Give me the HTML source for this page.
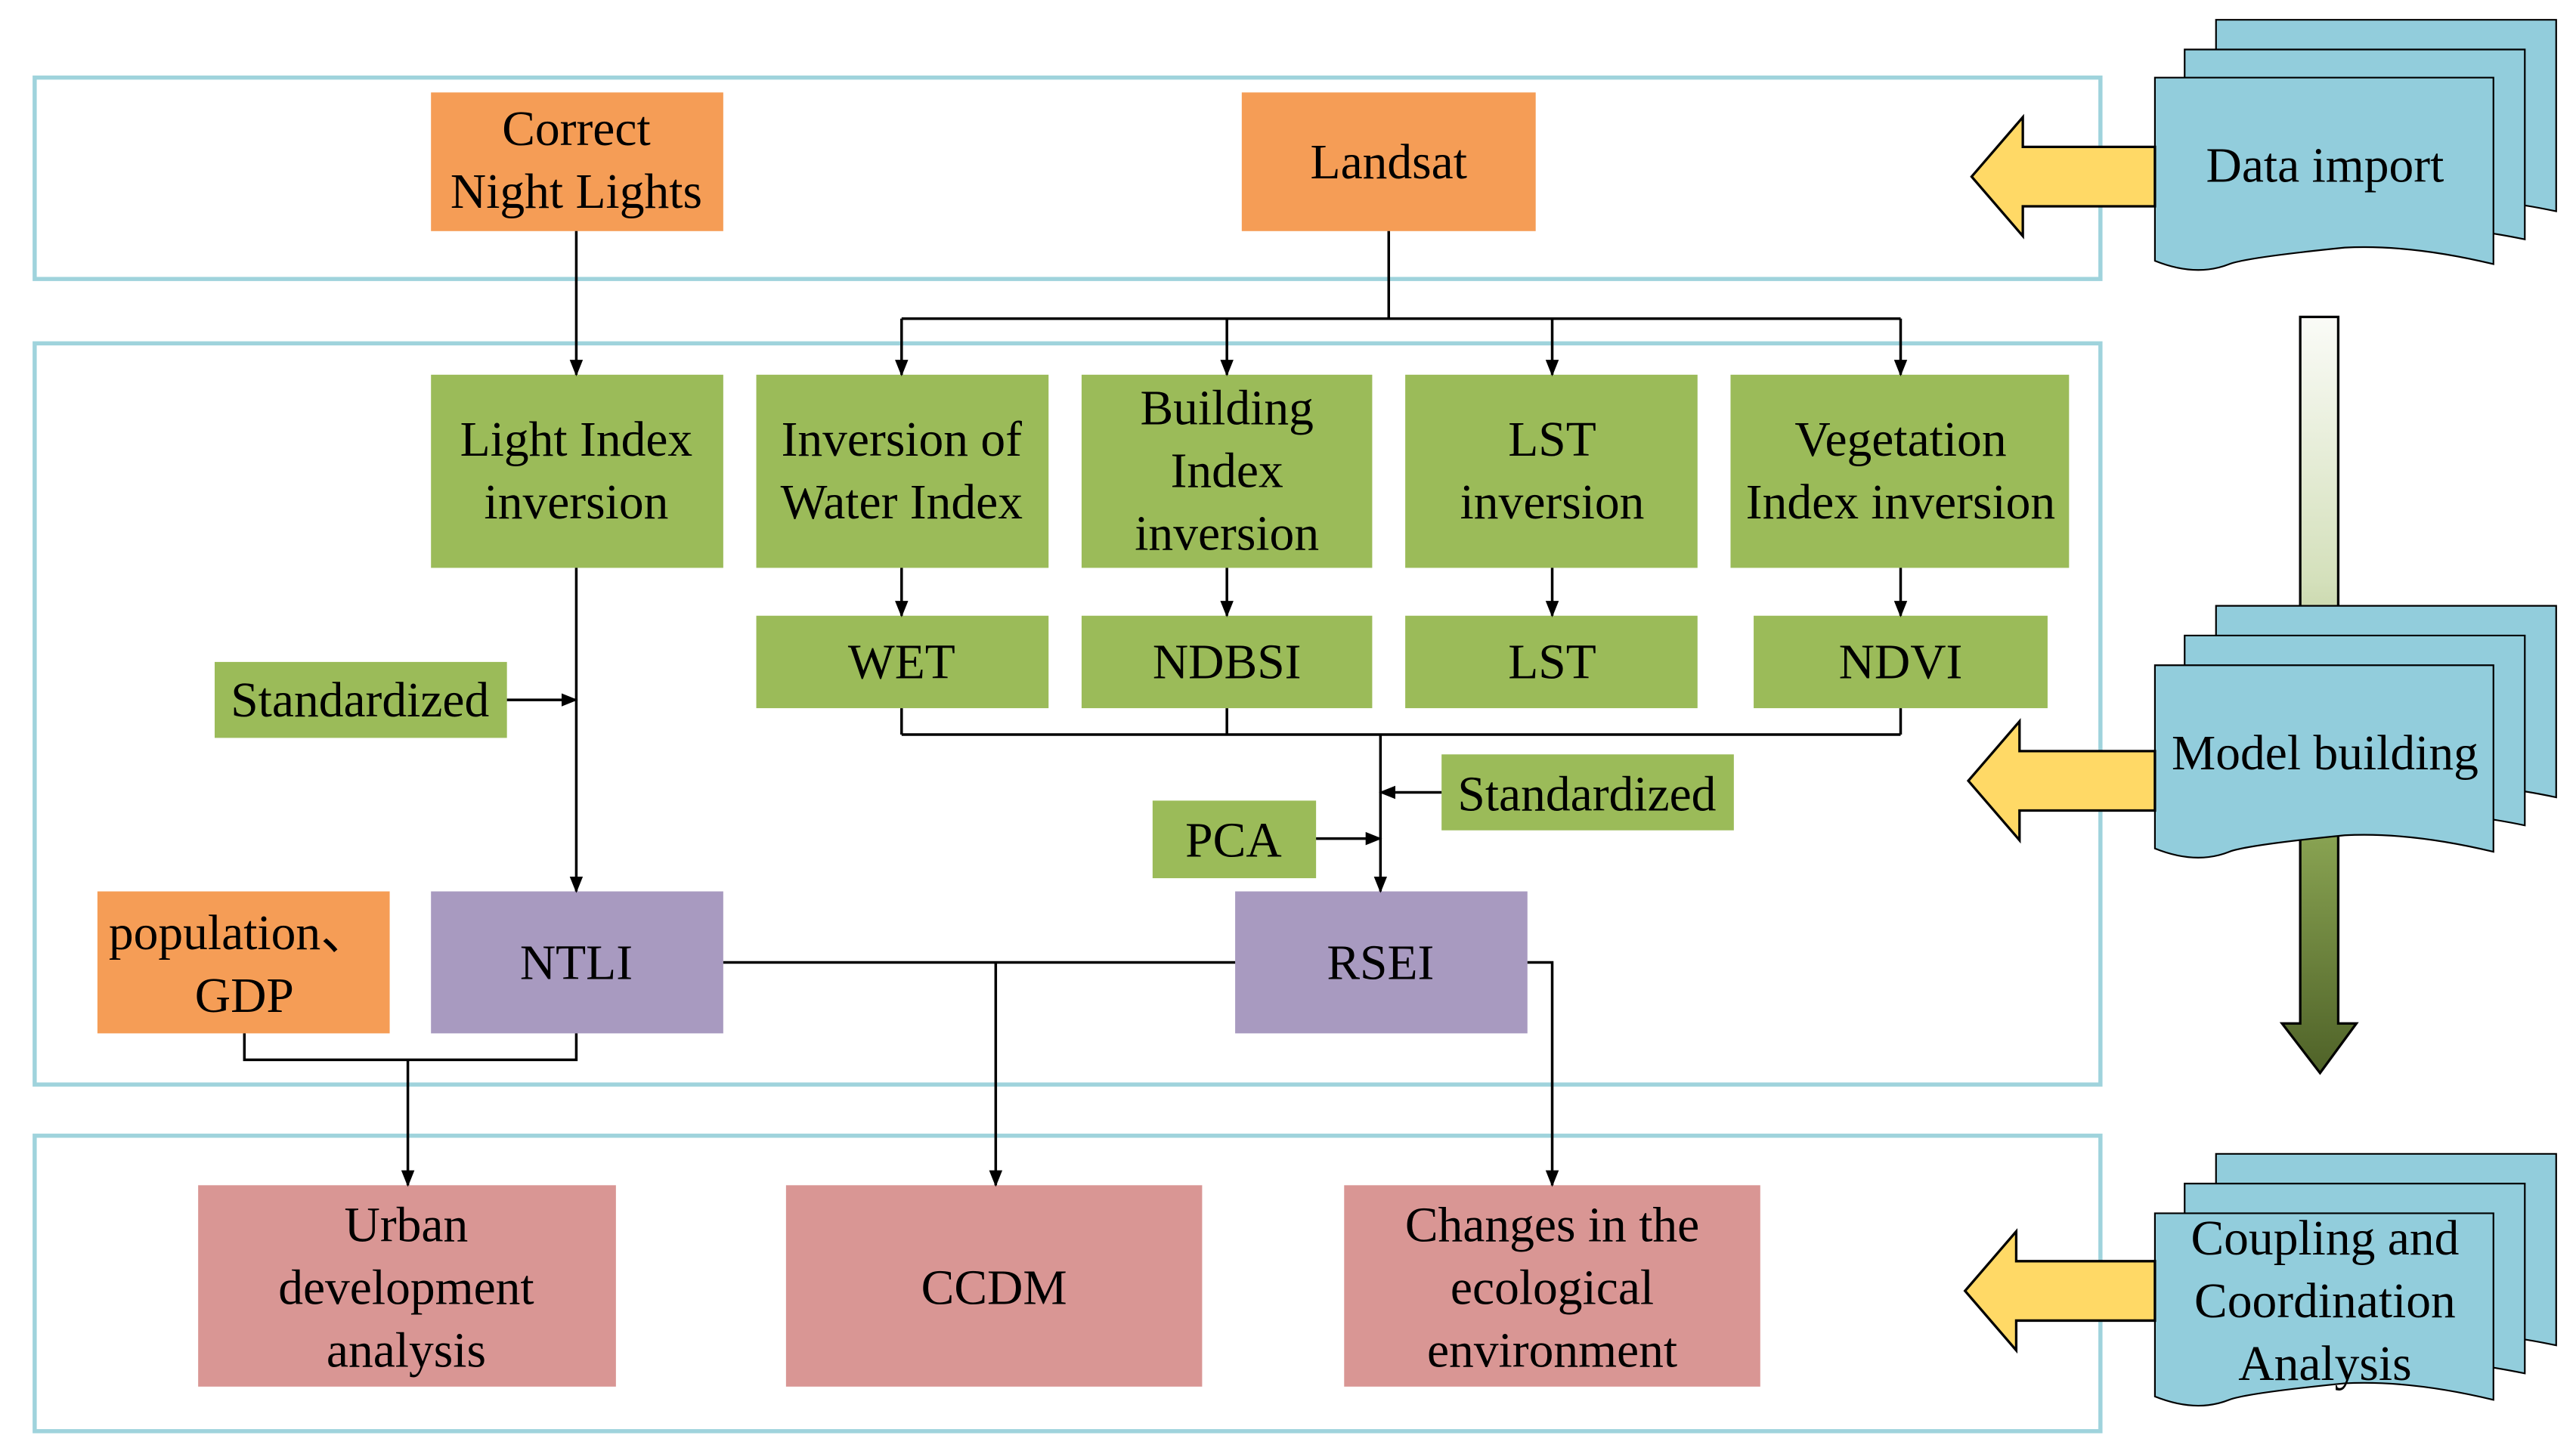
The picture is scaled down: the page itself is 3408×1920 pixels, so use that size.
<!DOCTYPE html>
<html><head><meta charset="utf-8"><style>html,body{margin:0;padding:0;background:#fff}svg{display:block}</style></head>
<body>
<svg width="3408" height="1920" viewBox="0 0 1560 879" preserveAspectRatio="none" xmlns="http://www.w3.org/2000/svg">
<defs>
<marker id="a" markerWidth="10" markerHeight="10" refX="9" refY="5" orient="auto" markerUnits="userSpaceOnUse"><path d="M0,1 L10,5 L0,9 z" fill="#000"/></marker>
<linearGradient id="g" x1="0" y1="0" x2="0" y2="1"><stop offset="0" stop-color="#fafbf7"/><stop offset="0.35" stop-color="#d4e0bb"/><stop offset="0.7" stop-color="#86a050"/><stop offset="1" stop-color="#4f6228"/></linearGradient>
</defs>
<style>text{font-family:"Liberation Serif",serif;font-size:30px;text-anchor:middle;fill:#000}</style>
<g fill="none" stroke="#9fd3dc" stroke-width="2.5">
<rect x="21" y="47" width="1251" height="122"/>
<rect x="21" y="208" width="1251" height="449"/>
<rect x="21" y="688" width="1251" height="179"/>
</g>
<g fill="#F59D56">
<rect x="261" y="56" width="177" height="84"/><rect x="752" y="56" width="178" height="84"/><rect x="59" y="540" width="177" height="86"/>
</g>
<g fill="#9BBB59">
<rect x="261" y="227" width="177" height="117"/><rect x="458" y="227" width="177" height="117"/><rect x="655" y="227" width="176" height="117"/><rect x="851" y="227" width="177" height="117"/><rect x="1048" y="227" width="205" height="117"/>
<rect x="458" y="373" width="177" height="56"/><rect x="655" y="373" width="176" height="56"/><rect x="851" y="373" width="177" height="56"/><rect x="1062" y="373" width="178" height="56"/>
<rect x="130" y="401" width="177" height="46"/><rect x="873" y="457" width="177" height="46"/><rect x="698" y="485" width="99" height="47"/>
</g>
<g fill="#A89AC0"><rect x="261" y="540" width="177" height="86"/><rect x="748" y="540" width="177" height="86"/></g>
<g fill="#D99694"><rect x="120" y="718" width="253" height="122"/><rect x="476" y="718" width="252" height="122"/><rect x="814" y="718" width="252" height="122"/></g>
<g stroke="#000" stroke-width="1.6" fill="none">
<path d="M349,140 V227" marker-end="url(#a)"/>
<path d="M841,140 V193 M546,193 H1151"/>
<path d="M546,193 V227" marker-end="url(#a)"/><path d="M743,193 V227" marker-end="url(#a)"/><path d="M940,193 V227" marker-end="url(#a)"/><path d="M1151,193 V227" marker-end="url(#a)"/>
<path d="M349,344 V540" marker-end="url(#a)"/>
<path d="M307,424 H349" marker-end="url(#a)"/>
<path d="M546,344 V373" marker-end="url(#a)"/><path d="M743,344 V373" marker-end="url(#a)"/><path d="M940,344 V373" marker-end="url(#a)"/><path d="M1151,344 V373" marker-end="url(#a)"/>
<path d="M546,429 V445 M743,429 V445 M1151,429 V445 M546,445 H1151"/>
<path d="M836,445 V540" marker-end="url(#a)"/>
<path d="M873,480 H836" marker-end="url(#a)"/>
<path d="M797,508 H836" marker-end="url(#a)"/>
<path d="M438,583 H748"/>
<path d="M603,583 V718" marker-end="url(#a)"/>
<path d="M925,583 H940 V718" marker-end="url(#a)"/>
<path d="M148,626 V642 H349 V626"/>
<path d="M247,642 V718" marker-end="url(#a)"/>
</g>
<text x="349" y="88">Correct</text><text x="349" y="126">Night Lights</text>
<text x="841" y="108">Landsat</text>
<text x="349" y="276">Light Index</text><text x="349" y="314">inversion</text>
<text x="546" y="276">Inversion of</text><text x="546" y="314">Water Index</text>
<text x="743" y="257">Building</text><text x="743" y="295">Index</text><text x="743" y="333">inversion</text>
<text x="940" y="276">LST</text><text x="940" y="314">inversion</text>
<text x="1151" y="276">Vegetation</text><text x="1151" y="314">Index inversion</text>
<text x="546" y="411">WET</text><text x="743" y="411">NDBSI</text><text x="940" y="411">LST</text><text x="1151" y="411">NDVI</text>
<text x="218" y="434">Standardized</text><text x="961" y="491">Standardized</text><text x="747" y="519">PCA</text>
<text x="349" y="593">NTLI</text><text x="836" y="593">RSEI</text>
<text x="145" y="575">population、</text><text x="148" y="613">GDP</text>
<text x="246" y="752">Urban</text><text x="246" y="790">development</text><text x="246" y="828">analysis</text>
<text x="602" y="790">CCDM</text>
<text x="940" y="752">Changes in the</text><text x="940" y="790">ecological</text><text x="940" y="828">environment</text>
<!-- vertical gradient arrow -->
<path d="M1393,192 H1416 V620 H1427 L1405,650 L1382,620 H1393 Z" fill="url(#g)" stroke="#000" stroke-width="1.5"/>
<!-- doc stacks -->
<g fill="#92CDDC" stroke="#000" stroke-width="1">
<g id="d1">
<path d="M1342,12 H1548 V128 Q1510,120 1490,122 L1342,122 Z"/>
<path d="M1323,30 H1529 V145 Q1490,137 1470,139 L1323,139 Z"/>
<path d="M1305,47 H1510 V160 Q1460,148 1420,150 Q1360,156 1350,160 Q1330,168 1305,158 Z"/>
</g>
<g>
<path d="M1342,367 H1548 V483 Q1510,475 1490,477 L1342,477 Z"/>
<path d="M1323,385 H1529 V500 Q1490,492 1470,494 L1323,494 Z"/>
<path d="M1305,403 H1510 V516 Q1460,504 1420,506 Q1360,512 1350,516 Q1330,524 1305,514 Z"/>
</g>
<g>
<path d="M1342,699 H1548 V815 Q1510,807 1490,809 L1342,809 Z"/>
<path d="M1323,717 H1529 V832 Q1490,824 1470,826 L1323,826 Z"/>
<path d="M1305,735 H1510 V848 Q1460,836 1420,838 Q1360,844 1350,848 Q1330,856 1305,846 Z"/>
</g>
</g>
<text x="1408" y="110">Data import</text>
<text x="1408" y="466">Model building</text>
<text x="1408" y="760">Coupling and</text><text x="1408" y="798">Coordination</text><text x="1408" y="836">Analysis</text>
<!-- yellow arrows -->
<g fill="#FFD966" stroke="#000" stroke-width="1.5">
<path d="M1305,89 H1225 V71 L1194,107 L1225,143 V125 H1305 Z"/>
<path d="M1305,455 H1223 V437 L1192,473 L1223,509 V491 H1305 Z"/>
<path d="M1305,764 H1221 V746 L1190,782 L1221,818 V800 H1305 Z"/>
</g>
</svg>
</body></html>
